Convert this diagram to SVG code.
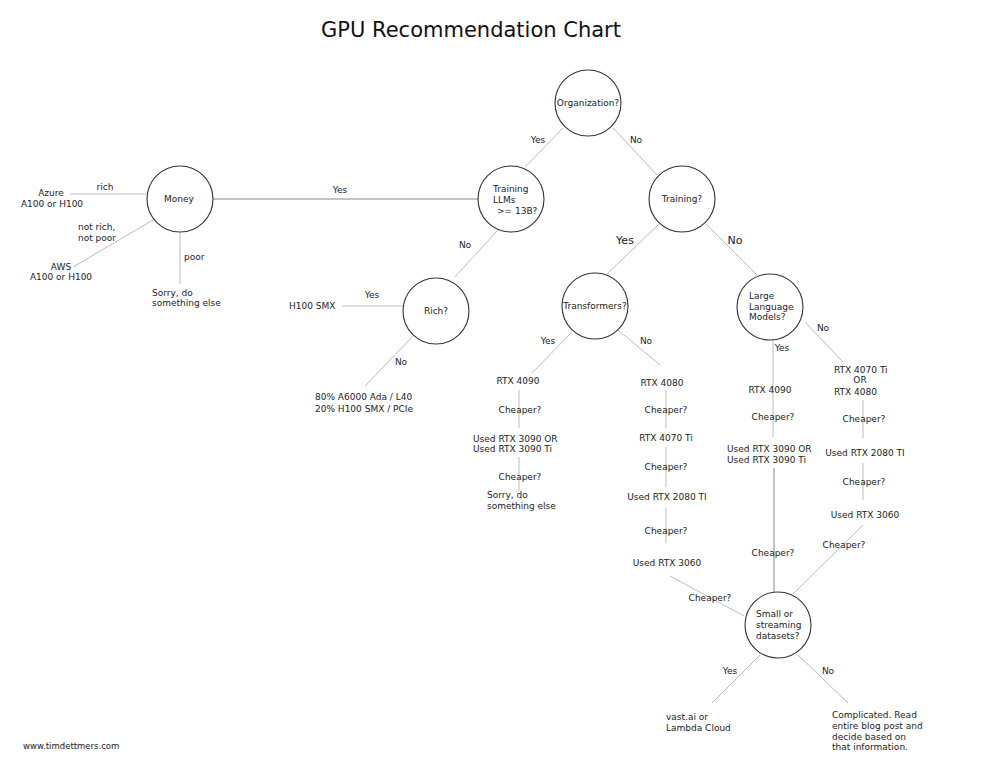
<svg xmlns="http://www.w3.org/2000/svg" width="981" height="759" viewBox="0 0 981 759">
<style>
text{font-family:"DejaVu Sans","Liberation Sans",sans-serif;font-size:9px;fill:#222}
.m{text-anchor:middle}
.title{font-size:21px;fill:#111}
.big{font-size:11px}
.node circle{fill:#fff;stroke:#333;stroke-width:1.1}
.e line{stroke:#bbb;stroke-width:1}
.e line.d{stroke:#888}
</style>
<rect width="981" height="759" fill="#fff"/>
<text class="title m" x="471" y="37">GPU Recommendation Chart</text>
<g id="connectors" class="e">
<line x1="563" y1="128" x2="525" y2="167"/>
<line x1="613" y1="128" x2="657" y2="175"/>
<line class="d" x1="213" y1="199" x2="478" y2="199"/>
<line x1="70" y1="194" x2="146" y2="194"/>
<line x1="153" y1="220" x2="73" y2="267"/>
<line x1="180" y1="232" x2="180" y2="284"/>
<line x1="497" y1="231" x2="455" y2="277"/>
<line x1="342" y1="306" x2="403" y2="306"/>
<line x1="415" y1="334" x2="365" y2="386"/>
<line x1="659" y1="224" x2="607" y2="274"/>
<line x1="706" y1="224" x2="757" y2="275"/>
<line x1="572" y1="332" x2="532" y2="373"/>
<line x1="618" y1="330" x2="660" y2="365"/>
<line x1="519" y1="390" x2="519" y2="428"/>
<line x1="519" y1="457" x2="519" y2="491"/>
<line x1="666" y1="390" x2="666" y2="428"/>
<line x1="666" y1="447" x2="666" y2="487"/>
<line x1="666" y1="508" x2="666" y2="543"/>
<line x1="670" y1="576" x2="744" y2="616"/>
<line x1="773" y1="340" x2="773" y2="437"/>
<line class="d" x1="774" y1="468" x2="774" y2="592"/>
<line x1="805" y1="322" x2="843" y2="362"/>
<line x1="863" y1="400" x2="863" y2="438"/>
<line x1="863" y1="463" x2="863" y2="500"/>
<line x1="863" y1="525" x2="793" y2="594"/>
<line x1="760" y1="655" x2="712" y2="703"/>
<line x1="798" y1="655" x2="848" y2="703"/>
</g>
<g id="edge-labels">
<text class="m" x="538" y="143">Yes</text>
<text class="m" x="636" y="143">No</text>
<text class="m" x="340" y="193">Yes</text>
<text class="m" x="105" y="190">rich</text>
<text x="78" y="230">not rich,</text>
<text x="78" y="241">not poor</text>
<text x="184" y="260">poor</text>
<text class="m" x="465" y="248">No</text>
<text class="m" x="372" y="298">Yes</text>
<text class="m" x="401" y="365">No</text>
<text class="m big" x="625" y="244">Yes</text>
<text class="m big" x="735" y="244">No</text>
<text class="m" x="548" y="344">Yes</text>
<text class="m" x="646" y="344">No</text>
<text class="m" x="782" y="351">Yes</text>
<text class="m" x="823" y="331">No</text>
<text class="m" x="710" y="601">Cheaper?</text>
<text class="m" x="773" y="556">Cheaper?</text>
<text class="m" x="844" y="548">Cheaper?</text>
<text class="m" x="730" y="674">Yes</text>
<text class="m" x="828" y="674">No</text>
</g>
<g id="organization" class="node"><circle cx="588" cy="103" r="33"/><text class="m" x="588" y="106">Organization?</text></g>
<g id="money" class="node"><circle cx="180" cy="199" r="33"/><text class="m" x="179" y="202">Money</text></g>
<g id="training-llms" class="node"><circle cx="511" cy="199" r="33"/><text x="493" y="192">Training</text><text x="493" y="203">LLMs</text><text x="497" y="214">&gt;= 13B?</text></g>
<g id="training" class="node"><circle cx="682" cy="199" r="33"/><text class="m" x="682" y="202">Training?</text></g>
<g id="rich" class="node"><circle cx="436" cy="311" r="33"/><text class="m" x="436" y="314">Rich?</text></g>
<g id="transformers" class="node"><circle cx="595" cy="306" r="33"/><text class="m" x="595" y="309">Transformers?</text></g>
<g id="llm" class="node"><circle cx="770" cy="307" r="33"/><text x="749" y="299">Large</text><text x="749" y="310">Language</text><text x="749" y="320">Models?</text></g>
<g id="small-datasets" class="node"><circle cx="778" cy="625" r="33"/><text x="756" y="617">Small or</text><text x="756" y="628">streaming</text><text x="756" y="639">datasets?</text></g>
<g id="leaf-azure"><text class="m" x="51" y="196">Azure</text><text class="m" x="52" y="207">A100 or H100</text></g>
<g id="leaf-aws"><text class="m" x="61" y="270">AWS</text><text class="m" x="61" y="280">A100 or H100</text></g>
<g id="leaf-sorry1"><text x="152" y="296">Sorry, do</text><text x="152" y="306">something else</text></g>
<g id="leaf-h100"><text x="289" y="309">H100 SMX</text></g>
<g id="leaf-mix"><text x="315" y="400">80% A6000 Ada / L40</text><text x="315" y="412">20% H100 SMX / PCIe</text></g>
<g id="col-transformers-yes">
<text class="m" x="518" y="384">RTX 4090</text>
<text class="m" x="520" y="413">Cheaper?</text>
<text x="473" y="442">Used RTX 3090 OR</text>
<text x="473" y="452">Used RTX 3090 Ti</text>
<text class="m" x="520" y="480">Cheaper?</text>
<text x="487" y="498">Sorry, do</text>
<text x="487" y="509">something else</text>
</g>
<g id="col-transformers-no">
<text class="m" x="662" y="386">RTX 4080</text>
<text class="m" x="666" y="413">Cheaper?</text>
<text class="m" x="666" y="441">RTX 4070 Ti</text>
<text class="m" x="666" y="470">Cheaper?</text>
<text class="m" x="667" y="500">Used RTX 2080 TI</text>
<text class="m" x="666" y="534">Cheaper?</text>
<text class="m" x="667" y="566">Used RTX 3060</text>
</g>
<g id="col-llm-yes">
<text class="m" x="770" y="393">RTX 4090</text>
<text class="m" x="773" y="420">Cheaper?</text>
<text x="727" y="452">Used RTX 3090 OR</text>
<text x="727" y="463">Used RTX 3090 Ti</text>
</g>
<g id="col-llm-no">
<text x="834" y="373">RTX 4070 Ti</text>
<text class="m" x="860" y="383">OR</text>
<text x="834" y="395">RTX 4080</text>
<text class="m" x="864" y="422">Cheaper?</text>
<text class="m" x="865" y="456">Used RTX 2080 TI</text>
<text class="m" x="864" y="485">Cheaper?</text>
<text class="m" x="865" y="518">Used RTX 3060</text>
</g>
<g id="leaf-vast"><text x="666" y="720">vast.ai or</text><text x="666" y="731">Lambda Cloud</text></g>
<g id="leaf-complicated"><text x="832" y="718">Complicated. Read</text><text x="832" y="729">entire blog post and</text><text x="832" y="740">decide based on</text><text x="832" y="750">that information.</text></g>
<text x="23" y="749" style="font-size:8.5px">www.timdettmers.com</text>
</svg>
